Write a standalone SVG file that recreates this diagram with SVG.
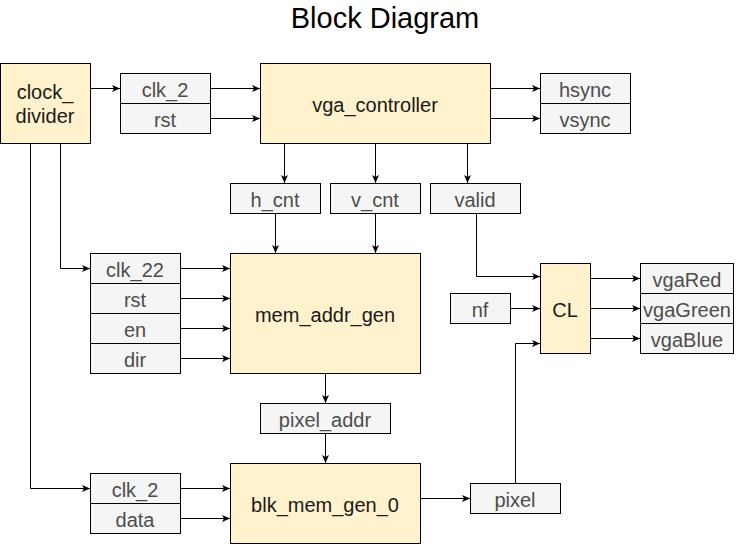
<svg xmlns="http://www.w3.org/2000/svg" width="742" height="544" viewBox="0 0 742 544">
<style>
.blk{fill:#fff2cc;stroke:#000;stroke-width:1}
.sig{fill:#f5f5f5;stroke:#000;stroke-width:1}
.tb{font-family:"Liberation Sans",Arial,sans-serif;font-size:20px;fill:#1a1a1a;text-anchor:middle}
.ts{font-family:"Liberation Sans",Arial,sans-serif;font-size:20px;fill:#4d4d4d;text-anchor:middle}
.title{font-family:"Liberation Sans",Arial,sans-serif;font-size:29px;fill:#000;text-anchor:middle}
.c{fill:none;stroke:#000;stroke-width:1}
</style>
<defs>
<marker id="ah" viewBox="0 0 8 8" refX="8" refY="4" markerWidth="8" markerHeight="8" markerUnits="userSpaceOnUse" orient="auto">
<path d="M0,0.5 L8,4 L0,7.5 L2,4 z" fill="#000"/>
</marker>
</defs>
<rect width="742" height="544" fill="#fff"/>
<text class="title" x="385" y="28">Block Diagram</text>

<g id="connectors" class="c" marker-end="url(#ah)">
<path d="M90.5,88.5 H120"/>
<path d="M210.5,88.5 H260"/>
<path d="M210.5,118.5 H260"/>
<path d="M490.5,88.5 H540"/>
<path d="M490.5,118.5 H540"/>
<path d="M284.5,143.5 V183"/>
<path d="M375.5,143.5 V183"/>
<path d="M467.5,143.5 V183"/>
<path d="M275.5,213.5 V253"/>
<path d="M375.5,213.5 V253"/>
<path d="M476.5,213.5 V276.5 H540"/>
<path d="M60.5,143.5 V268.5 H90"/>
<path d="M180.5,268.5 H230"/>
<path d="M180.5,298.5 H230"/>
<path d="M180.5,328.5 H230"/>
<path d="M180.5,358.5 H230"/>
<path d="M30.5,143.5 V488.5 H90"/>
<path d="M325.5,373.5 V403"/>
<path d="M325.5,433.5 V463"/>
<path d="M180.5,488.5 H230"/>
<path d="M180.5,518.5 H230"/>
<path d="M420.5,498.5 H470"/>
<path d="M515.5,483.5 V343.5 H540"/>
<path d="M510.5,308.5 H540"/>
<path d="M590.5,278.5 H640"/>
<path d="M590.5,308.5 H640"/>
<path d="M590.5,338.5 H640"/>
</g>

<g id="clock_divider">
<rect class="blk" x="0.5" y="63.5" width="90" height="80"/>
<text class="tb" x="45" y="98.5">clock_</text>
<text class="tb" x="45" y="123">divider</text>
</g>
<g id="vga_in">
<rect class="sig" x="120.5" y="73.5" width="90" height="30"/>
<text class="ts" x="165" y="96.5">clk_2</text>
<rect class="sig" x="120.5" y="103.5" width="90" height="30"/>
<text class="ts" x="165" y="126.5">rst</text>
</g>
<g id="vga_controller">
<rect class="blk" x="260.5" y="63.5" width="230" height="80"/>
<text class="tb" x="375" y="111.5">vga_controller</text>
</g>
<g id="vga_out">
<rect class="sig" x="540.5" y="73.5" width="90" height="30"/>
<text class="ts" x="585" y="96.5">hsync</text>
<rect class="sig" x="540.5" y="103.5" width="90" height="30"/>
<text class="ts" x="585" y="126.5">vsync</text>
</g>
<g id="h_cnt">
<rect class="sig" x="230.5" y="183.5" width="90" height="30"/>
<text class="ts" x="275" y="206.5">h_cnt</text>
</g>
<g id="v_cnt">
<rect class="sig" x="330.5" y="183.5" width="90" height="30"/>
<text class="ts" x="375" y="206.5">v_cnt</text>
</g>
<g id="valid">
<rect class="sig" x="430.5" y="183.5" width="90" height="30"/>
<text class="ts" x="475" y="206.5">valid</text>
</g>
<g id="mem_in">
<rect class="sig" x="90.5" y="253.5" width="90" height="30"/>
<text class="ts" x="135" y="276.5">clk_22</text>
<rect class="sig" x="90.5" y="283.5" width="90" height="30"/>
<text class="ts" x="135" y="306.5">rst</text>
<rect class="sig" x="90.5" y="313.5" width="90" height="30"/>
<text class="ts" x="135" y="336.5">en</text>
<rect class="sig" x="90.5" y="343.5" width="90" height="30"/>
<text class="ts" x="135" y="366.5">dir</text>
</g>
<g id="mem_addr_gen">
<rect class="blk" x="230.5" y="253.5" width="190" height="120"/>
<text class="tb" x="325" y="321.5">mem_addr_gen</text>
</g>
<g id="pixel_addr">
<rect class="sig" x="260.5" y="403.5" width="130" height="30"/>
<text class="ts" x="325" y="426.5">pixel_addr</text>
</g>
<g id="blk_in">
<rect class="sig" x="90.5" y="473.5" width="90" height="30"/>
<text class="ts" x="135" y="496.5">clk_2</text>
<rect class="sig" x="90.5" y="503.5" width="90" height="30"/>
<text class="ts" x="135" y="526.5">data</text>
</g>
<g id="blk_mem_gen_0">
<rect class="blk" x="230.5" y="463.5" width="190" height="80"/>
<text class="tb" x="325" y="511.5">blk_mem_gen_0</text>
</g>
<g id="pixel">
<rect class="sig" x="470.5" y="483.5" width="90" height="30"/>
<text class="ts" x="515" y="506.5">pixel</text>
</g>
<g id="nf">
<rect class="sig" x="450.5" y="293.5" width="60" height="30"/>
<text class="ts" x="480" y="316.5">nf</text>
</g>
<g id="CL">
<rect class="blk" x="540.5" y="263.5" width="50" height="90"/>
<text class="tb" x="565" y="316.5">CL</text>
</g>
<g id="cl_out">
<rect class="sig" x="640.5" y="263.5" width="93" height="30"/>
<text class="ts" x="687" y="286.5">vgaRed</text>
<rect class="sig" x="640.5" y="293.5" width="93" height="30"/>
<text class="ts" x="687" y="316.5">vgaGreen</text>
<rect class="sig" x="640.5" y="323.5" width="93" height="30"/>
<text class="ts" x="687" y="346.5">vgaBlue</text>
</g>
</svg>
